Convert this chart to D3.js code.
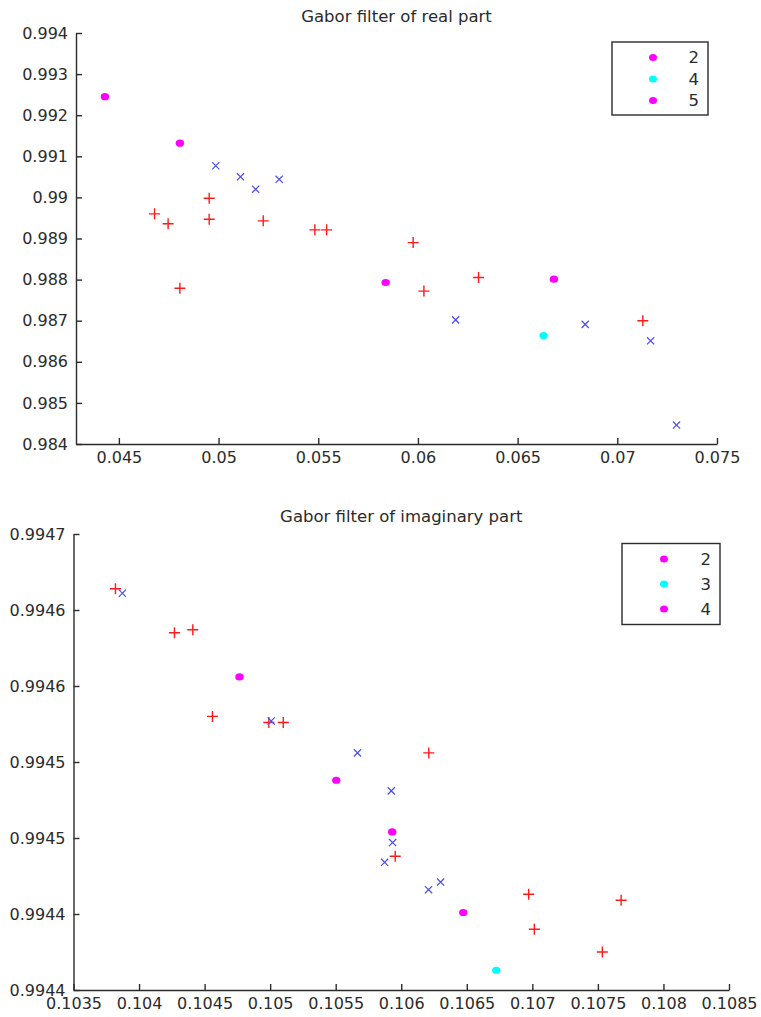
<!DOCTYPE html>
<html>
<head>
<meta charset="utf-8">
<script src="https://cdn.jsdelivr.net/npm/d3@7"></script>
<style>
  html, body { margin: 0; padding: 0; background: #fff; }
  svg text { font-family: "DejaVu Sans", sans-serif; fill: #2b2b2b; }
</style>
</head>
<body>
<svg id="fig" width="761" height="1017"></svg>
<script>
// ---------- Gabor filter of real part ----------
const realTitle = "Gabor filter of real part";
const realXTicks = [0.045, 0.05, 0.055, 0.06, 0.065, 0.07, 0.075];
const realXTickLabels = ["0.045", "0.05", "0.055", "0.06", "0.065", "0.07", "0.075"];
const realYTicks = [0.984, 0.985, 0.986, 0.987, 0.988, 0.989, 0.99, 0.991, 0.992, 0.993, 0.994];
const realYTickLabels = ["0.984", "0.985", "0.986", "0.987", "0.988", "0.989", "0.99", "0.991", "0.992", "0.993", "0.994"];
const realXDomain = [0.04285, 0.075];
const realYDomain = [0.984, 0.994];

const realPlusX = [0.04679, 0.04747, 0.04953, 0.04953, 0.04806, 0.05224, 0.05483, 0.05542, 0.05976, 0.0603, 0.06304, 0.07128];
const realPlusY = [0.98960, 0.98936, 0.98998, 0.98947, 0.98779, 0.98943, 0.98921, 0.98921, 0.98890, 0.98772, 0.98805, 0.98700];
const realCrossX = [0.04986, 0.0511, 0.05186, 0.05304, 0.06189, 0.06839, 0.07167, 0.07297];
const realCrossY = [0.99077, 0.99050, 0.99020, 0.99044, 0.98702, 0.98691, 0.98651, 0.98446];
const realLegend = ["2", "4", "5"];
const realDotX = [[0.0443, 0.04806], [0.0663], [0.05838, 0.06682]];
const realDotY = [[0.99245, 0.99132], [0.98664], [0.98793, 0.98801]];

// ---------- Gabor filter of imaginary part ----------
const imagTitle = "Gabor filter of imaginary part";
const imagXTicks = [0.1035, 0.104, 0.1045, 0.105, 0.1055, 0.106, 0.1065, 0.107, 0.1075, 0.108, 0.1085];
const imagXTickLabels = ["0.1035", "0.104", "0.1045", "0.105", "0.1055", "0.106", "0.1065", "0.107", "0.1075", "0.108", "0.1085"];
const imagYTicks = [0.9944, 0.99445, 0.9945, 0.99455, 0.9946, 0.99465, 0.9947];
const imagYTickLabels = ["0.9944", "0.9944", "0.9945", "0.9945", "0.9946", "0.9946", "0.9947"];
const imagXDomain = [0.1035, 0.1085];
const imagYDomain = [0.9944, 0.9947];

const imagPlusX = [0.10382, 0.10427, 0.10441, 0.10456, 0.10499, 0.10510, 0.10621, 0.105954, 0.106972, 0.107677, 0.107015, 0.107534];
const imagPlusY = [0.994664, 0.994635, 0.994637, 0.99458, 0.994576, 0.994576, 0.994556, 0.994488, 0.994463, 0.994459, 0.99444, 0.994425];
const imagCrossX = [0.103873, 0.105008, 0.105666, 0.105924, 0.105934, 0.105873, 0.106208, 0.1063];
const imagCrossY = [0.994661, 0.994577, 0.994556, 0.994531, 0.994497, 0.994484, 0.994466, 0.994471];
const imagLegend = ["2", "3", "4"];
const imagDotX = [[0.104766, 0.105504], [0.106725], [0.105931, 0.106473]];
const imagDotY = [[0.994606, 0.994538], [0.994413], [0.994504, 0.994451]];

const dotColors = ["#ff00ff", "#00ffff", "#ff00ff"];
const plusColor = "#ff1a1a";
const crossColor = "#4b4bf5";
const axisColor = "#2b2b2b";

const svg = d3.select("#fig");

function drawPanel(cfg) {
  const x = d3.scaleLinear().domain(cfg.xDomain).range(cfg.xRange);
  const y = d3.scaleLinear().domain(cfg.yDomain).range(cfg.yRange);
  const g = svg.append("g");

  // title
  g.append("text")
    .attr("x", (cfg.xRange[0] + cfg.xRange[1]) / 2)
    .attr("y", cfg.titleY)
    .attr("text-anchor", "middle")
    .style("font-size", "16.5px")
    .text(cfg.title);

  // axes, ticks pointing inward
  const xAxis = d3.axisBottom(x)
    .tickValues(cfg.xTicks)
    .tickFormat((d, i) => cfg.xTickLabels[i])
    .tickSizeInner(-6).tickSizeOuter(0).tickPadding(10);
  const yAxis = d3.axisLeft(y)
    .tickValues(cfg.yTicks)
    .tickFormat((d, i) => cfg.yTickLabels[i])
    .tickSizeInner(-6).tickSizeOuter(0).tickPadding(8);

  const gx = g.append("g").attr("transform", `translate(0,${cfg.yRange[0]})`).call(xAxis);
  const gy = g.append("g").attr("transform", `translate(${cfg.xRange[0]},0)`).call(yAxis);
  [gx, gy].forEach(a => {
    a.select(".domain").attr("stroke", axisColor).attr("stroke-width", 1.4);
    a.selectAll(".tick line").attr("stroke", axisColor).attr("stroke-width", 1.4);
    a.selectAll(".tick text").style("font-size", "16px").attr("fill", axisColor)
      .style("font-family", "DejaVu Sans, sans-serif");
  });
  gx.selectAll(".tick text").attr("dy", "0.45em").attr("y", 12);
  gy.selectAll(".tick text").attr("x", -8);

  // plus markers
  g.append("g").selectAll("path.plus")
    .data(d3.range(cfg.plusX.length))
    .join("path")
    .attr("d", i => {
      const px = x(cfg.plusX[i]), py = y(cfg.plusY[i]), s = 5.5;
      return `M${px - s},${py}H${px + s}M${px},${py - s}V${py + s}`;
    })
    .attr("stroke", plusColor).attr("stroke-width", 1.4).attr("fill", "none");

  // cross markers
  g.append("g").selectAll("path.cross")
    .data(d3.range(cfg.crossX.length))
    .join("path")
    .attr("d", i => {
      const px = x(cfg.crossX[i]), py = y(cfg.crossY[i]), s = 3.6;
      return `M${px - s},${py - s}L${px + s},${py + s}M${px - s},${py + s}L${px + s},${py - s}`;
    })
    .attr("stroke", crossColor).attr("stroke-width", 1.2).attr("fill", "none");

  // dot series (the legend entries)
  cfg.dotX.forEach((xs, k) => {
    g.append("g").selectAll("ellipse")
      .data(d3.range(xs.length))
      .join("ellipse")
      .attr("cx", i => x(xs[i]))
      .attr("cy", i => y(cfg.dotY[k][i]))
      .attr("rx", 4.2).attr("ry", 3.6)
      .attr("fill", dotColors[k]);
  });

  // legend
  const L = cfg.legendBox;
  const lg = g.append("g");
  lg.append("rect")
    .attr("x", L.x).attr("y", L.y).attr("width", L.w).attr("height", L.h)
    .attr("fill", "#fff").attr("stroke", axisColor).attr("stroke-width", 1.4);
  cfg.legend.forEach((lab, k) => {
    const ry = L.y + L.row0 + k * L.rowStep;
    lg.append("ellipse")
      .attr("cx", L.x + L.markerDx).attr("cy", ry)
      .attr("rx", 4).attr("ry", 3.5).attr("fill", dotColors[k]);
    lg.append("text")
      .attr("x", L.x + L.w - 9).attr("y", ry)
      .attr("dy", "0.36em")
      .attr("text-anchor", "end")
      .style("font-size", "16.5px")
      .text(lab);
  });
}

drawPanel({
  title: realTitle, titleY: 22,
  xDomain: realXDomain, yDomain: realYDomain,
  xRange: [76, 717], yRange: [444, 33],
  xTicks: realXTicks, xTickLabels: realXTickLabels,
  yTicks: realYTicks, yTickLabels: realYTickLabels,
  plusX: realPlusX, plusY: realPlusY,
  crossX: realCrossX, crossY: realCrossY,
  dotX: realDotX, dotY: realDotY, legend: realLegend,
  legendBox: { x: 612, y: 42, w: 96, h: 73, row0: 15.5, rowStep: 21.5, markerDx: 41 }
});

drawPanel({
  title: imagTitle, titleY: 521.5,
  xDomain: imagXDomain, yDomain: imagYDomain,
  xRange: [73.5, 729], yRange: [990, 534],
  xTicks: imagXTicks, xTickLabels: imagXTickLabels,
  yTicks: imagYTicks, yTickLabels: imagYTickLabels,
  plusX: imagPlusX, plusY: imagPlusY,
  crossX: imagCrossX, crossY: imagCrossY,
  dotX: imagDotX, dotY: imagDotY, legend: imagLegend,
  legendBox: { x: 622, y: 543.5, w: 98, h: 81, row0: 15.5, rowStep: 25, markerDx: 42 }
});
</script>
</body>
</html>
